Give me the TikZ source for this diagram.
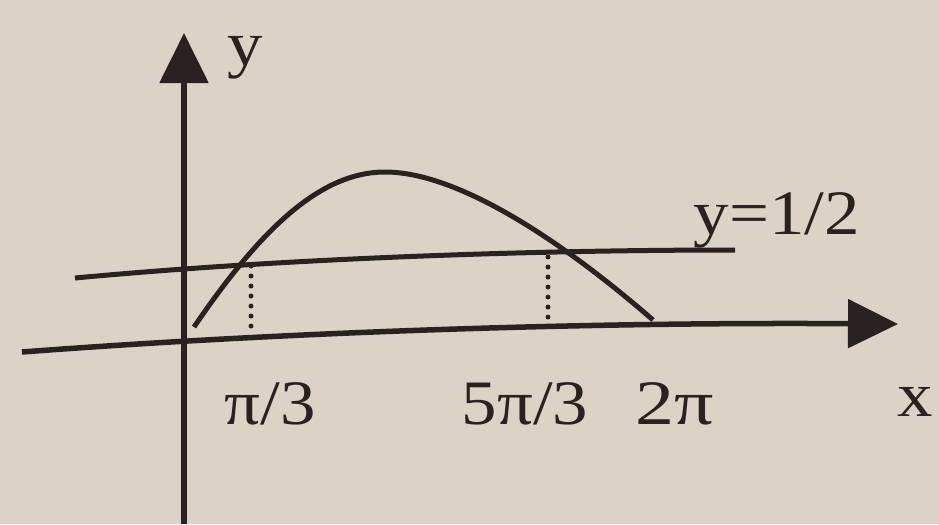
\documentclass[tikz,border=0pt]{standalone}
\usepackage{fontspec}
\setmainfont{Liberation Serif}
\usetikzlibrary{arrows.meta}
\definecolor{paper}{RGB}{220,211,198}
\definecolor{ink}{RGB}{42,34,32}
\newcommand{\lbl}[1]{\scalebox{1.12}[1]{\fontsize{18}{20}\selectfont #1}}
\tikzset{
  axisline/.style={draw=ink, line width=0.055cm, -{Triangle[length=0.5cm,width=0.48cm]}},
  plainline/.style={draw=ink, line width=0.05cm},
  dotline/.style={draw=ink, line width=0.05cm, line cap=round, dash pattern=on 0pt off 0.1cm},
  lab/.style={text=ink, inner sep=0pt}
}
\begin{document}
\begin{tikzpicture}[x=0.01cm, y=-0.01cm]
\fill[paper] (0,0) rectangle (939,524);
\useasboundingbox (0,0) rectangle (939,524);
% axes
\coordinate (ybot) at (184,524);
\coordinate (ytop) at (184,33);
\coordinate (xl) at (22,352);
\coordinate (xr) at (898,324);
\draw[axisline] (ybot) -- (ytop);
\draw[axisline] (xl) .. controls (300,331) and (600,322) .. (xr);
% y = 1/2 line
\coordinate (hl) at (75,278);
\coordinate (hr) at (735,250);
\draw[plainline] (hl) .. controls (300,257) and (550,250) .. (hr);
% sine curve
\coordinate (c0) at (194,327);
\coordinate (cp) at (385,172);
\coordinate (c1) at (653,320);
\draw[plainline] (c0) .. controls (260,230) and (320,172) .. (cp)
                      .. controls (470,172) and (590,265) .. (c1);
% dotted drops
\coordinate (d1t) at (251,266);
\coordinate (d1b) at (251,336);
\coordinate (d2t) at (548,257);
\coordinate (d2b) at (548,327);
\draw[dotline] (d1t) -- (d1b);
\draw[dotline] (d2t) -- (d2b);
% labels
\node[lab] (ylab) at (245,58) {\lbl{y}};
\node[lab] (hlab) at (777,220) {\lbl{y=1/2}};
\node[lab] (p1) at (270,404) {\lbl{π/3}};
\node[lab] (p2) at (525,404) {\lbl{5π/3}};
\node[lab] (p3) at (675,404) {\lbl{\scalebox{1.1}[1]{2π}}};
\node[lab] (xlab) at (915,402) {\lbl{x}};
\end{tikzpicture}
\end{document}
